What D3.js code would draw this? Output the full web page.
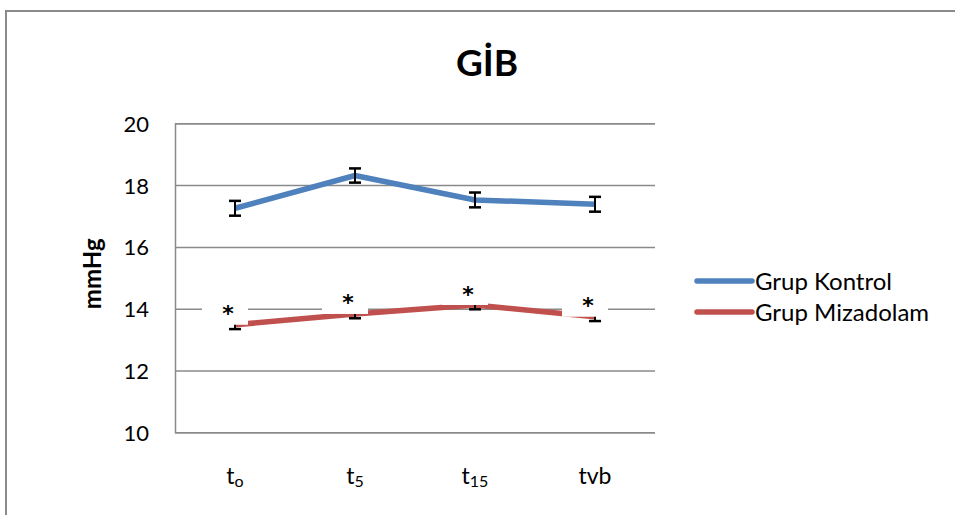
<!DOCTYPE html>
<html>
<head>
<meta charset="utf-8">
<script src="https://cdn.jsdelivr.net/npm/d3@7"></script>
<style>
  html, body { margin: 0; padding: 0; background: #fff; }
  svg { display: block; font-family: Lato, "Open Sans", sans-serif; }
</style>
</head>
<body>
<svg id="chart" width="955" height="515"></svg>
<script>
// GİB (mmHg) over time for the two groups, mean with error bars
const tickBase = ["t", "t", "t", "tvb"];
const tickSub = ["o", "5", "15", ""];
const categories = ["t0", "t5", "t15", "tvb"];

const kontrol = [17.25, 18.31, 17.52, 17.38];
const kontrolErr = [0.24, 0.23, 0.24, 0.24];
const mizadolam = [13.48, 13.83, 14.12, 13.74];
const mizadolamErr = [0.14, 0.14, 0.14, 0.14];
const significance = ["*", "*", "*", "*"];

const yTicks = [10, 12, 14, 16, 18, 20];
const seriesNames = ["Grup Kontrol", "Grup Mizadolam"];

const svg = d3.select("#chart");
const plot = { left: 175, right: 655, top: 123.3, bottom: 432.3 };

const x = d3.scalePoint().domain(categories).range([plot.left, plot.right]).padding(0.5);
const y = d3.scaleLinear().domain([10, 20]).range([plot.bottom, plot.top]);

const blue = "#4F81BD", red = "#C0504D", grid = "#8a8a8a";

// outer chart frame (continues past the right and bottom edges)
svg.append("rect")
  .attr("x", 6).attr("y", 11).attr("width", 1000).attr("height", 600)
  .attr("fill", "none").attr("stroke", grid).attr("stroke-width", 2);

// title
svg.append("text")
  .attr("x", 487).attr("y", 76)
  .attr("text-anchor", "middle")
  .attr("font-size", 37).attr("font-weight", "bold")
  .text("GİB");

// horizontal gridlines and y axis
const yAxis = d3.axisLeft(y).tickValues(yTicks).tickSize(-(plot.right - plot.left)).tickPadding(26);
const gy = svg.append("g").attr("transform", `translate(${plot.left},0)`).call(yAxis);
gy.select(".domain").attr("stroke", grid).attr("stroke-width", 1.5);
gy.selectAll(".tick line").attr("stroke", grid).attr("stroke-width", 1.5);
gy.selectAll(".tick text")
  .attr("font-size", 22).attr("font-family", "Lato, sans-serif").attr("fill", "#000")
  .attr("dy", "0.36em");

// y axis title
svg.append("text")
  .attr("transform", `translate(101,${(plot.top + plot.bottom) / 2 - 4}) rotate(-90)`)
  .attr("text-anchor", "middle")
  .attr("font-size", 24).attr("font-weight", "bold")
  .text("mmHg");

// category labels with subscripts
const xl = svg.append("g");
categories.forEach((c, i) => {
  const t = xl.append("text")
    .attr("x", x(c)).attr("y", 484)
    .attr("text-anchor", "middle")
    .attr("font-size", 23);
  t.append("tspan").text(tickBase[i]);
  if (tickSub[i]) {
    t.append("tspan").attr("font-size", 16).attr("dy", 3).text(tickSub[i]);
  }
});

const line = d3.line().x((d, i) => x(categories[i])).y(d => y(d));

function drawSeries(values, color) {
  svg.append("path")
    .datum(values)
    .attr("d", line)
    .attr("fill", "none")
    .attr("stroke", color)
    .attr("stroke-width", 5.5)
    .attr("stroke-linejoin", "round");
}

function drawErrors(values, errs) {
  const g = svg.append("g").attr("stroke", "#000").attr("stroke-width", 2);
  values.forEach((v, i) => {
    const cx = x(categories[i]);
    g.append("line").attr("x1", cx).attr("x2", cx).attr("y1", y(v - errs[i])).attr("y2", y(v + errs[i]));
    [v - errs[i], v + errs[i]].forEach(e => {
      g.append("line").attr("x1", cx - 6).attr("x2", cx + 6).attr("y1", y(e)).attr("y2", y(e)).attr("stroke-width", 2.5);
    });
  });
}

drawSeries(kontrol, blue);
drawErrors(kontrol, kontrolErr);
drawSeries(mizadolam, red);
drawErrors(mizadolam, mizadolamErr);

// significance labels sitting above the Mizadolam points on white boxes
const lab = svg.append("g");
mizadolam.forEach((v, i) => {
  const cx = x(categories[i]) - 7;
  const py = y(v);
  lab.append("rect")
    .attr("x", cx - 26).attr("y", py - 32)
    .attr("width", 46).attr("height", 32)
    .attr("fill", "#fff");
  lab.append("text")
    .attr("x", cx).attr("y", py - 16)
    .attr("dy", "0.57em")
    .attr("text-anchor", "middle")
    .attr("font-family", "DejaVu Sans, sans-serif")
    .attr("font-size", 22).attr("font-weight", "bold")
    .text(significance[i]);
});

// legend
const leg = svg.append("g");
seriesNames.forEach((name, i) => {
  const ly = 281 + i * 31;
  leg.append("line")
    .attr("x1", 697).attr("x2", 752).attr("y1", ly).attr("y2", ly)
    .attr("stroke", i === 0 ? blue : red).attr("stroke-width", 5.5)
    .attr("stroke-linecap", "round");
  leg.append("text")
    .attr("x", 755).attr("y", ly).attr("dy", "0.36em")
    .attr("font-size", 24)
    .text(name);
});
</script>
</body>
</html>
